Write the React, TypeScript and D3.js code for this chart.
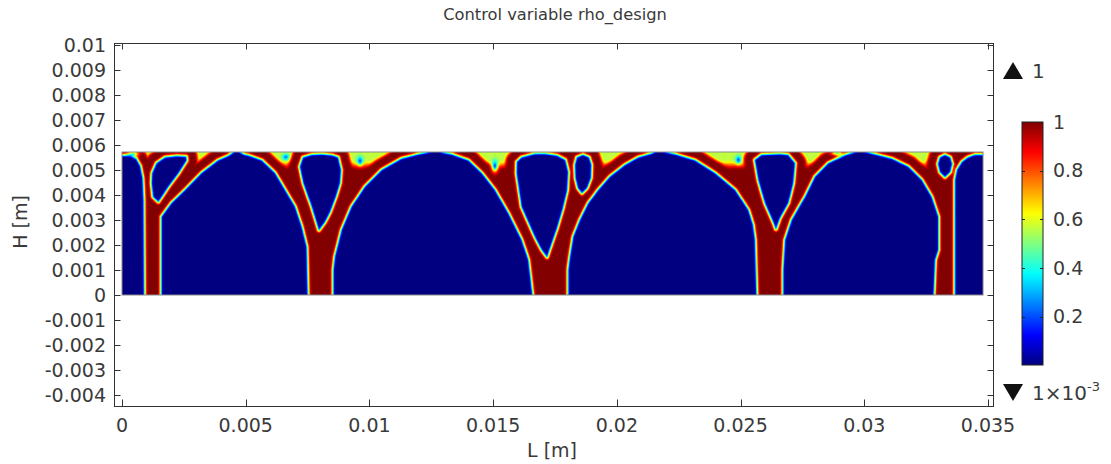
import React, { useMemo } from "react";
import * as d3 from "d3";

// ---------- data ----------
// design domain size (m)
const DOMAIN_L = 0.0348;
const DOMAIN_H = 0.00572;

// void (rho ~ 0) outlines of the optimized design, [x mm, y mm]
const voidA = [[-0.3, -0.3], [-0.3, 5.56], [0.32, 5.56], [0.57, 5.44], [0.73, 5.16], [0.83, 4.68], [0.87, 3.8], [0.89, -0.3]];
const voidB = [[1.2, 4.47], [1.22, 4.87], [1.4, 5.27], [1.74, 5.5], [2.21, 5.55], [2.59, 5.53], [2.61, 5.38], [2.28, 4.87], [1.87, 4.33], [1.47, 3.73], [1.26, 3.93]];
const voidC = [[1.6, -0.3], [1.6, 3.13], [2.01, 3.68], [2.55, 4.2], [3.22, 4.88], [3.88, 5.38], [4.3, 5.56], [4.63, 5.78], [4.95, 5.6], [5.09, 5.58], [5.65, 5.38], [6.18, 4.88], [6.59, 4.2], [6.99, 3.53], [7.26, 2.73], [7.46, 1.93], [7.51, -0.3]];
const voidD = [[7.19, 5.13], [7.32, 5.5], [7.67, 5.6], [8.07, 5.62], [8.5, 5.58], [8.73, 5.5], [8.85, 5.0], [8.81, 4.48], [8.64, 3.93], [8.41, 3.32], [8.2, 2.92], [7.96, 2.6], [7.67, 3.53], [7.33, 4.48]];
const voidE = [[8.55, -0.3], [8.55, 1.0], [8.61, 1.53], [8.88, 2.6], [9.28, 3.53], [9.82, 4.33], [10.5, 5.0], [11.3, 5.45], [11.98, 5.62], [12.3, 5.68], [12.65, 5.78], [13.0, 5.68], [13.32, 5.62], [14.0, 5.38], [14.54, 4.87], [15.07, 4.2], [15.61, 3.27], [16.15, 2.2], [16.42, 1.4], [16.62, -0.3]];
const voidF = [[15.95, 4.87], [15.96, 5.32], [16.15, 5.5], [16.69, 5.64], [17.1, 5.64], [17.58, 5.57], [17.91, 5.4], [18.03, 4.92], [17.99, 4.2], [17.82, 3.48], [17.58, 2.68], [17.34, 2.0], [17.18, 1.52], [16.97, 1.8], [16.69, 2.33], [16.15, 3.53]];
const voidG = [[18.63, 5.6], [18.87, 5.5], [18.97, 5.2], [18.95, 4.68], [18.79, 4.28], [18.59, 4.08], [18.43, 4.28], [18.33, 4.68], [18.31, 5.2], [18.39, 5.5]];
const voidH = [[18.04, -0.3], [18.04, 1.0], [18.11, 1.53], [18.24, 2.33], [18.51, 3.0], [18.85, 3.67], [19.25, 4.2], [19.72, 4.73], [20.33, 5.2], [20.87, 5.5], [21.41, 5.65], [21.67, 5.78], [22.0, 5.7], [22.36, 5.62], [23.16, 5.38], [23.97, 4.87], [24.78, 4.2], [25.31, 3.4], [25.5, 2.8], [25.58, 2.2], [25.65, -0.3]];
const voidI = [[25.58, 5.4], [25.85, 5.6], [26.59, 5.63], [26.92, 5.6], [27.2, 5.27], [27.13, 4.48], [26.93, 3.68], [26.59, 3.08], [26.43, 2.64], [26.32, 2.93], [25.99, 3.67], [25.72, 4.6]];
const voidJ = [[26.73, -0.3], [26.73, 1.0], [26.8, 2.2], [27.07, 3.0], [27.61, 3.93], [28.01, 4.73], [28.55, 5.27], [29.22, 5.58], [29.83, 5.78], [30.1, 5.7], [30.43, 5.62], [31.11, 5.45], [31.78, 5.13], [32.32, 4.6], [32.72, 3.93], [32.99, 3.13], [32.99, 1.8], [32.86, 1.4], [32.79, -0.3]];
const voidK = [[33.26, 5.6], [33.47, 5.5], [33.55, 5.24], [33.47, 4.92], [33.26, 4.72], [33.06, 4.92], [32.98, 5.24], [33.06, 5.5]];
const voidL = [[33.67, -0.3], [33.67, 4.6], [33.75, 5.0], [33.95, 5.32], [34.19, 5.5], [34.47, 5.6], [35.2, 5.6], [35.2, -0.3]];
const VOIDS = [voidA, voidB, voidC, voidD, voidE, voidF, voidG, voidH, voidI, voidJ, voidK, voidL];

// intermediate material level near the loaded top surface
const TOP_RHO = 0.56;
// low-density spots: [x mm, y mm, rx mm, ry mm, rho]
const softSpots = [
  [0.45, 5.64, 0.22, 0.1, 0.45],
  [6.62, 5.52, 0.14, 0.12, 0.42],
  [9.62, 5.35, 0.12, 0.18, 0.33],
  [15.07, 5.15, 0.13, 0.22, 0.22],
  [24.91, 5.4, 0.11, 0.16, 0.33],
  [28.9, 5.66, 0.22, 0.08, 0.45],
];

const xTicks = [0, 0.005, 0.01, 0.015, 0.02, 0.025, 0.03, 0.035];
const xTickLabels = ["0", "0.005", "0.01", "0.015", "0.02", "0.025", "0.03", "0.035"];
const yTicks = [0.01, 0.009, 0.008, 0.007, 0.006, 0.005, 0.004, 0.003, 0.002, 0.001, 0, -0.001, -0.002, -0.003, -0.004];
const yTickLabels = ["0.01", "0.009", "0.008", "0.007", "0.006", "0.005", "0.004", "0.003", "0.002", "0.001", "0", "-0.001", "-0.002", "-0.003", "-0.004"];
const cbTicks = [0.2, 0.4, 0.6, 0.8, 1];
const cbTickLabels = ["0.2", "0.4", "0.6", "0.8", "1"];
const CB_MIN = 0.001;
const CB_MAX = 1;

// ---------- helpers ----------
const clamp01 = (v: number) => Math.max(0, Math.min(1, v));
function jet(v: number) {
  const r = clamp01(1.5 - Math.abs(4 * v - 3));
  const g = clamp01(1.5 - Math.abs(4 * v - 2));
  const b = clamp01(1.5 - Math.abs(4 * v - 1));
  return d3.rgb(r * 255, g * 255, b * 255).formatHex();
}
const smooth = (a: number, b: number, x: number) => {
  const t = clamp01((x - a) / (b - a));
  return t * t * (3 - 2 * t);
};
function segD2(px: number, py: number, ax: number, ay: number, bx: number, by: number) {
  const dx = bx - ax, dy = by - ay;
  const l2 = dx * dx + dy * dy;
  let t = l2 > 0 ? ((px - ax) * dx + (py - ay) * dy) / l2 : 0;
  t = Math.max(0, Math.min(1, t));
  const ex = ax + t * dx - px, ey = ay + t * dy - py;
  return ex * ex + ey * ey;
}
function inPoly(p: number[][], x: number, y: number) {
  let c = false;
  for (let i = 0, j = p.length - 1; i < p.length; j = i++) {
    const [xi, yi] = p[i], [xj, yj] = p[j];
    if ((yi > y) !== (yj > y) && x < ((xj - xi) * (y - yi)) / (yj - yi) + xi) c = !c;
  }
  return c;
}

const NX = 696;
const NY = 115;

function computeField() {
  const Lmm = DOMAIN_L * 1000, Hmm = DOMAIN_H * 1000;
  const gx = Lmm / NX, gy = Hmm / NY;
  const vals = new Float64Array(NX * NY);
  for (let j = 0; j < NY; j++) {
    const y = Hmm - (j + 0.5) * gy;
    for (let i = 0; i < NX; i++) {
      const x = (i + 0.5) * gx;
      let d2 = Infinity;
      let ins = false;
      for (const p of VOIDS) {
        if (!ins && inPoly(p, x, y)) ins = true;
        for (let k = 0, m = p.length - 1; k < p.length; m = k++) {
          const v = segD2(x, y, p[m][0], p[m][1], p[k][0], p[k][1]);
          if (v < d2) d2 = v;
        }
      }
      const s = ins ? -Math.sqrt(d2) : Math.sqrt(d2);
      // solid/void interface: a soft rim a few px wide
      let rho = smooth(-0.08, 0.17, s);
      const depth = Hmm - y;
      const hTop = 1 - smooth(0.3, 0.75, depth);
      const gFar = smooth(0.34, 0.56, s);
      rho *= 1 - (1 - TOP_RHO) * hTop * gFar;
      for (const [sx, sy, rx, ry, rs] of softSpots) {
        const e = ((x - sx) / rx) ** 2 + ((y - sy) / ry) ** 2;
        if (e < 9) rho *= 1 - (1 - rs) * Math.exp(-e);
      }
      vals[j * NX + i] = rho;
    }
  }
  return vals;
}

// ---------- layout ----------
const W = 1111, H = 464;
const xScale = d3.scaleLinear().domain([0, 0.035]).range([122, 988]);
const yScale = d3.scaleLinear().domain([0, 0.01]).range([295, 45]);
const FRAME = { x0: 114, x1: 993, y0: 43, y1: 406 };
const CB = { x: 1022, w: 21, y0: 122, y1: 365 };
const cbScale = d3.scaleLinear().domain([CB_MIN, CB_MAX]).range([CB.y1, CB.y0]);
const FONT = "DejaVu Sans, Verdana, sans-serif";
const TXT = "#3a3a3a";

export default function App() {
  const field = useMemo(computeField, []);
  const thresholds = useMemo(() => d3.range(0.015, 0.999, 0.015).concat([0.993]), []);
  const contours = useMemo(
    () => d3.contours().size([NX, NY]).thresholds(thresholds)(Array.from(field)),
    [field, thresholds]
  );
  const path = d3.geoPath();
  const fx0 = xScale(0);
  const fy0 = yScale(DOMAIN_H);
  const fx1 = xScale(DOMAIN_L);
  const fy1 = yScale(0);
  const sx = (fx1 - fx0) / NX;
  const sy = (fy1 - fy0) / NY;
  const gradStops = d3.range(0, 1.0001, 0.02);

  return (
    <svg
      width={W}
      height={H}
      style={{ position: "absolute", left: 0, top: 0, background: "#fff" }}
      fontFamily={FONT}
    >
      <defs>
        <clipPath id="fieldClip">
          <rect x={fx0} y={fy0} width={fx1 - fx0} height={fy1 - fy0} />
        </clipPath>
        <linearGradient id="cbGrad" x1="0" y1="1" x2="0" y2="0">
          {gradStops.map((t) => (
            <stop key={t} offset={t} stopColor={jet(CB_MIN + t * (CB_MAX - CB_MIN))} />
          ))}
        </linearGradient>
      </defs>
      <rect x={0} y={0} width={W} height={H} fill="#fff" />

      {/* title */}
      <text x={555} y={20} textAnchor="middle" fontSize={16.3} fill={TXT}>
        Control variable rho_design
      </text>

      {/* field */}
      <g clipPath="url(#fieldClip)">
        <rect x={fx0} y={fy0} width={fx1 - fx0} height={fy1 - fy0} fill={jet(0)} />
        <g transform={`translate(${fx0},${fy0}) scale(${sx},${sy})`}>
          {contours.map((c, i) => {
            const next = i + 1 < thresholds.length ? thresholds[i + 1] : 1;
            return <path key={i} d={path(c as any) || ""} fill={jet((c.value + next) / 2)} />;
          })}
        </g>
      </g>
      <rect x={fx0} y={fy0} width={fx1 - fx0} height={fy1 - fy0} fill="none" stroke="#8a8a8a" strokeWidth={1} />

      {/* frame */}
      <rect
        x={FRAME.x0 + 0.5}
        y={FRAME.y0 + 0.5}
        width={FRAME.x1 - FRAME.x0}
        height={FRAME.y1 - FRAME.y0}
        fill="none"
        stroke="#333"
        strokeWidth={1}
      />
      {xTicks.map((t) => {
        const x = Math.round(xScale(t)) + 0.5;
        return (
          <g key={"xt" + t}>
            <line x1={x} x2={x} y1={FRAME.y1 + 0.5} y2={FRAME.y1 - 6.5} stroke="#333" />
            <line x1={x} x2={x} y1={FRAME.y0 + 0.5} y2={FRAME.y0 + 6.5} stroke="#333" />
          </g>
        );
      })}
      {yTicks.map((t) => {
        const y = Math.round(yScale(t)) + 0.5;
        return (
          <g key={"yt" + t}>
            <line x1={FRAME.x0 + 0.5} x2={FRAME.x0 + 6.5} y1={y} y2={y} stroke="#333" />
            <line x1={FRAME.x1 + 0.5} x2={FRAME.x1 - 5.5} y1={y} y2={y} stroke="#333" />
          </g>
        );
      })}
      {xTicks.map((t, i) => (
        <text key={"xl" + t} x={xScale(t)} y={432} textAnchor="middle" fontSize={19} fill={TXT}>
          {xTickLabels[i]}
        </text>
      ))}
      {yTicks.map((t, i) => (
        <text key={"yl" + t} x={106} y={yScale(t)} dy="0.36em" textAnchor="end" fontSize={19} fill={TXT}>
          {yTickLabels[i]}
        </text>
      ))}
      <text x={552} y={457} textAnchor="middle" fontSize={19} fill={TXT}>
        L [m]
      </text>
      <text transform="translate(27,222) rotate(-90)" textAnchor="middle" fontSize={19} fill={TXT}>
        H [m]
      </text>

      {/* colour legend */}
      <path d="M1003,79 L1013,62 L1023,79 Z" fill="#111" />
      <text x={1032} y={71} dy="0.36em" fontSize={20} fill={TXT}>
        1
      </text>
      <rect x={CB.x} y={CB.y0} width={CB.w} height={CB.y1 - CB.y0} fill="url(#cbGrad)" stroke="#222" strokeWidth={1} />
      {cbTicks.map((t, i) => {
        const y = Math.round(cbScale(t)) + 0.5;
        return (
          <g key={"cb" + t}>
            <line x1={CB.x} x2={CB.x + 3} y1={y} y2={y} stroke="#222" />
            <line x1={CB.x + CB.w - 3} x2={CB.x + CB.w} y1={y} y2={y} stroke="#222" />
            <text x={CB.x + CB.w + 10} y={cbScale(t)} dy="0.36em" fontSize={19} fill={TXT}>
              {cbTickLabels[i]}
            </text>
          </g>
        );
      })}
      <path d="M1003,384 L1023,384 L1013,401 Z" fill="#111" />
      <text x={1032} y={393} dy="0.36em" fontSize={20} fill={TXT}>
        1×10
        <tspan dy={-9} fontSize={13}>-3</tspan>
      </text>
    </svg>
  );
}
